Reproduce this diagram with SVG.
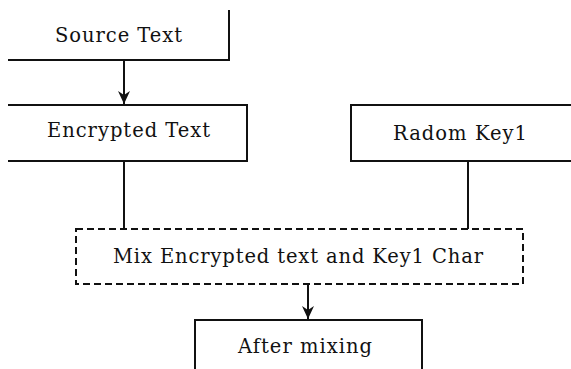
<svg xmlns="http://www.w3.org/2000/svg" width="571" height="369" viewBox="0 0 571 369">
<style>
.box{fill:#fff;stroke:#111;stroke-width:2}
.dash{stroke-dasharray:7 4}
.lbl{font-family:"DejaVu Serif","Liberation Serif",serif;font-size:19.5px;fill:#111;text-anchor:middle}
.ln{stroke:#111;stroke-width:2;fill:none}
</style>
<defs>
<marker id="ah" markerUnits="userSpaceOnUse" markerWidth="14" markerHeight="12" refX="13" refY="6" orient="auto" viewBox="0 0 14 12">
<path d="M0,0 L4,6 L0,12 L13,6 Z" fill="#111"/>
</marker>
</defs>
<rect width="571" height="369" fill="#fff"/>
<g id="connectors">
<line class="ln" x1="124" y1="60" x2="124" y2="104" marker-end="url(#ah)"/>
<line class="ln" x1="124" y1="161" x2="124" y2="229"/>
<line class="ln" x1="468" y1="161" x2="468" y2="229"/>
<line class="ln" x1="308" y1="284" x2="308" y2="319" marker-end="url(#ah)"/>
</g>
<g id="source">
<path class="ln" d="M8,60 H229 V10"/>
<text class="lbl" x="118.5" y="42" textLength="127" lengthAdjust="spacing">Source Text</text>
</g>
<g id="encrypted">
<path class="box" d="M8,105 H247 V161 H8"/>
<text class="lbl" x="128.5" y="137" textLength="163" lengthAdjust="spacing">Encrypted Text</text>
</g>
<g id="key">
<path class="box" d="M573,105 H351 V161 H573"/>
<text class="lbl" x="460" y="140" textLength="134" lengthAdjust="spacing">Radom Key1</text>
</g>
<g id="mix">
<rect class="box dash" x="76" y="229" width="447" height="55"/>
<text class="lbl" x="298" y="263" textLength="370" lengthAdjust="spacing">Mix Encrypted text and Key1 Char</text>
</g>
<g id="after">
<path class="box" d="M195,371 V320 H422 V371"/>
<text class="lbl" x="305" y="353" textLength="134" lengthAdjust="spacing">After mixing</text>
</g>
</svg>
